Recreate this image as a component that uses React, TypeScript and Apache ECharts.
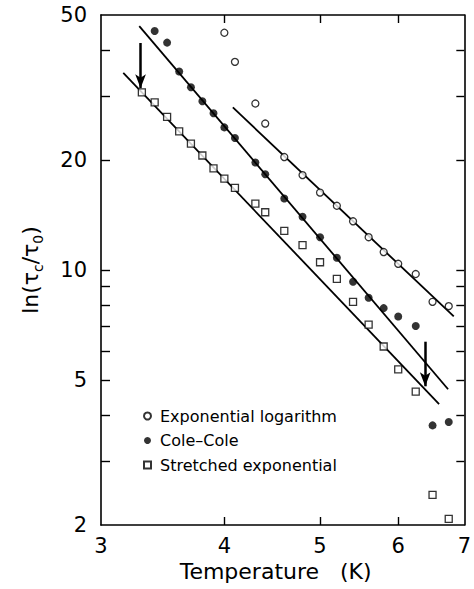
import React, { useEffect, useRef } from "react";
import * as echarts from "echarts";

// Exponential logarithm (open circles)
const expLogT = [4.0, 4.1, 4.3, 4.4, 4.6, 4.8, 5.0, 5.2, 5.4, 5.6, 5.8, 6.0, 6.25, 6.5, 6.75];
const expLogY = [44.7, 37.2, 28.6, 25.2, 20.4, 18.2, 16.3, 15.0, 13.6, 12.3, 11.2, 10.4, 9.75, 8.18, 7.96];

// Cole-Cole (filled circles)
const coleT = [3.4, 3.5, 3.6, 3.7, 3.8, 3.9, 4.0, 4.1, 4.3, 4.4, 4.6, 4.8, 5.0, 5.2, 5.4, 5.6, 5.8, 6.0, 6.25, 6.5, 6.75];
const coleY = [45.2, 42.0, 35.0, 31.7, 29.0, 26.9, 24.6, 23.0, 19.7, 18.3, 15.7, 14.0, 12.3, 10.8, 9.29, 8.39, 7.86, 7.46, 7.02, 3.75, 3.83];

// Stretched exponential (open squares)
const strT = [3.3, 3.4, 3.5, 3.6, 3.7, 3.8, 3.9, 4.0, 4.1, 4.3, 4.4, 4.6, 4.8, 5.0, 5.2, 5.4, 5.6, 5.8, 6.0, 6.25, 6.5, 6.75];
const strY = [30.7, 28.8, 26.3, 24.0, 22.2, 20.6, 19.0, 17.8, 16.8, 15.2, 14.4, 12.8, 11.7, 10.5, 9.45, 8.18, 7.08, 6.17, 5.34, 4.64, 2.42, 2.08];

// Fit lines (end points)
const expFitT = [4.08, 6.83];
const expFitY = [27.9, 7.46];
const coleFitT = [3.28, 6.74];
const coleFitY = [46.6, 4.71];
const strFitT = [3.16, 6.6];
const strFitY = [34.7, 4.29];

// Arrows
const arrowT = [3.29, 6.39];
const arrowTopY = [41.9, 6.36];
const arrowTipY = [31.5, 4.8];

// Axes
const xMin = 3;
const xMax = 7;
const yMin = 2;
const yMax = 50;
const xLabels = [3, 4, 5, 6, 7];
const xTicks = [4, 5, 6];
const yLabels = [2, 5, 10, 20, 50];
const yTicks = [3, 4, 5, 6, 7, 8, 9, 10, 20, 30, 40];

const legendNames = ["Exponential logarithm", "Cole–Cole", "Stretched exponential"];

const FONT = "DejaVu Sans";
const lg = (v: number) => Math.log10(v);
const pairs = (xs: number[], ys: number[]) => xs.map((x, i) => [lg(x), lg(ys[i])]);
const fmt = (v: number) => String(Math.round(Math.pow(10, v)));

export default function App() {
  const ref = useRef<HTMLDivElement>(null);
  useEffect(() => {
    if (!ref.current) return;
    const chart = echarts.init(ref.current, null, { renderer: "svg" });
    const axisLine = { show: true, onZero: false, lineStyle: { color: "#000", width: 1.6 } };
    const tickStyle = { color: "#000", width: 1.4 };
    const labelStyle = { color: "#000", fontFamily: FONT, fontSize: 21 };
    const option: any = {
      animation: false,
      grid: { left: 101, right: 8, top: 15, bottom: 64, containLabel: false },
      legend: {
        orient: "vertical",
        left: 138,
        top: 403,
        itemWidth: 7,
        itemHeight: 7,
        itemGap: 8.5,
        selectedMode: false,
        data: legendNames,
        textStyle: { color: "#000", fontFamily: FONT, fontSize: 16, padding: [0, 0, 0, 4] },
      },
      xAxis: [
        {
          type: "value",
          min: lg(xMin),
          max: lg(xMax),
          position: "bottom",
          name: "Temperature   (K)",
          nameLocation: "middle",
          nameGap: 35,
          nameTextStyle: { color: "#000", fontFamily: FONT, fontSize: 22, padding: [0, 14, 0, 0] },
          axisLine,
          axisTick: { show: true, inside: true, length: 8, lineStyle: tickStyle, customValues: xTicks.map(lg) },
          axisLabel: { ...labelStyle, margin: 10, customValues: xLabels.map(lg), formatter: fmt },
          splitLine: { show: false },
        },
        {
          type: "value",
          min: lg(xMin),
          max: lg(xMax),
          position: "top",
          axisLine,
          axisTick: { show: true, inside: true, length: 8, lineStyle: tickStyle, customValues: xTicks.map(lg) },
          axisLabel: { show: false },
          splitLine: { show: false },
        },
      ],
      yAxis: [
        {
          type: "value",
          min: lg(yMin),
          max: lg(yMax),
          position: "left",
          name: "{a|ln(τ}{s|c}{a|/τ}{s|0}{a|)}",
          nameLocation: "middle",
          nameGap: 56,
          nameRotate: 90,
          nameTextStyle: {
            color: "#000",
            rich: {
              a: { fontFamily: FONT, fontSize: 22, color: "#000", lineHeight: 30 },
              s: { fontFamily: FONT, fontSize: 14, color: "#000", verticalAlign: "bottom", lineHeight: 14 },
            },
          },
          axisLine,
          axisTick: { show: true, inside: true, length: 9, lineStyle: tickStyle, customValues: yTicks.map(lg) },
          axisLabel: { ...labelStyle, margin: 14, customValues: yLabels.map(lg), formatter: fmt },
          splitLine: { show: false },
        },
        {
          type: "value",
          min: lg(yMin),
          max: lg(yMax),
          position: "right",
          axisLine,
          axisTick: { show: true, inside: true, length: 8, lineStyle: tickStyle, customValues: yTicks.map(lg) },
          axisLabel: { show: false },
          splitLine: { show: false },
        },
      ],
      series: [
        {
          type: "line",
          data: pairs(expFitT, expFitY),
          symbol: "none",
          silent: true,
          lineStyle: { color: "#000", width: 1.8 },
          z: 2,
        },
        {
          type: "line",
          data: pairs(coleFitT, coleFitY),
          symbol: "none",
          silent: true,
          lineStyle: { color: "#000", width: 1.8 },
          z: 2,
        },
        {
          type: "line",
          data: pairs(strFitT, strFitY),
          symbol: "none",
          silent: true,
          lineStyle: { color: "#000", width: 1.8 },
          z: 2,
          markLine: {
            silent: true,
            symbol: ["none", "arrow"],
            symbolSize: [8, 14],
            label: { show: false },
            lineStyle: { color: "#000", width: 2.5, type: "solid" },
            data: arrowT.map((t, i) => [
              { coord: [lg(t), lg(arrowTopY[i])] },
              { coord: [lg(t), lg(arrowTipY[i])] },
            ]),
          },
        },
        {
          name: legendNames[0],
          type: "scatter",
          data: pairs(expLogT, expLogY),
          symbol: "circle",
          symbolSize: 7,
          itemStyle: { color: "#fff", borderColor: "#000", borderWidth: 1.3 },
          z: 5,
        },
        {
          name: legendNames[1],
          type: "scatter",
          data: pairs(coleT, coleY),
          symbol: "circle",
          symbolSize: 8,
          itemStyle: { color: "#000", borderColor: "#000", borderWidth: 0 },
          z: 5,
        },
        {
          name: legendNames[2],
          type: "scatter",
          data: pairs(strT, strY),
          symbol: "rect",
          symbolSize: 7,
          itemStyle: { color: "#fff", borderColor: "#000", borderWidth: 1.3 },
          z: 5,
        },
      ],
    };
    chart.setOption(option);
    return () => chart.dispose();
  }, []);
  return (
    <div
      ref={ref}
      style={{ position: "fixed", left: 0, top: 0, width: 474, height: 589, background: "#fff" }}
    />
  );
}
